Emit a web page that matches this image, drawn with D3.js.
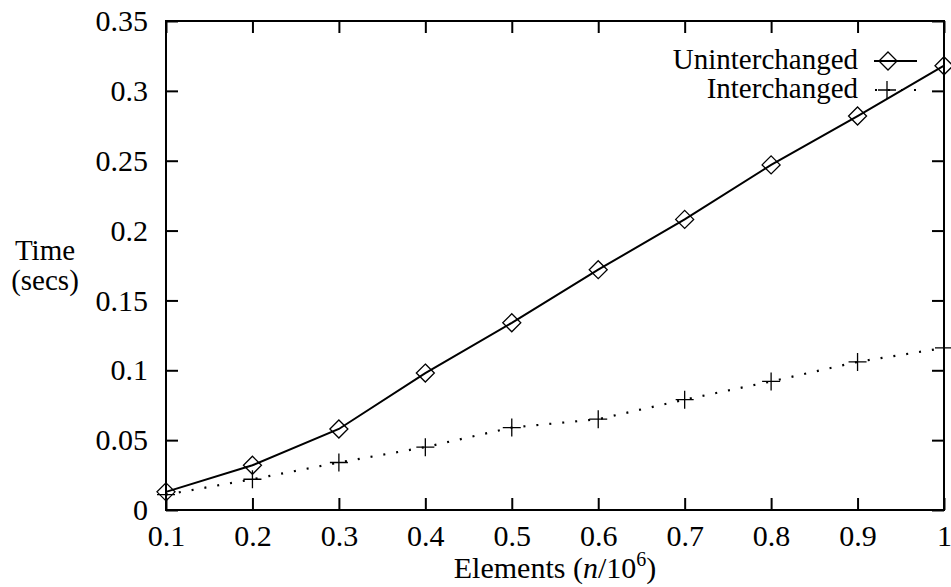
<!DOCTYPE html>
<html>
<head>
<meta charset="utf-8">
<script src="https://cdn.jsdelivr.net/npm/d3@7"></script>
<style>
  body { margin: 0; background: #fff; }
  svg { display: block; font-family: "Liberation Serif", "Times New Roman", serif; }
</style>
</head>
<body>
<div id="chart"></div>
<script>
// values
var elements = [0.1, 0.2, 0.3, 0.4, 0.5, 0.6, 0.7, 0.8, 0.9, 1.0];
var uninterchanged = [0.013, 0.032, 0.058, 0.098, 0.134, 0.172, 0.208, 0.247, 0.282, 0.318];
var interchanged = [0.011, 0.022, 0.034, 0.045, 0.059, 0.065, 0.079, 0.092, 0.106, 0.116];

var xTicks = [0.1, 0.2, 0.3, 0.4, 0.5, 0.6, 0.7, 0.8, 0.9, 1];
var xTickLabels = ["0.1", "0.2", "0.3", "0.4", "0.5", "0.6", "0.7", "0.8", "0.9", "1"];
var yTicks = [0, 0.05, 0.1, 0.15, 0.2, 0.25, 0.3, 0.35];
var yTickLabels = ["0", "0.05", "0.1", "0.15", "0.2", "0.25", "0.3", "0.35"];

var seriesNames = ["Uninterchanged", "Interchanged"];

var width = 951,
	height = 587;

// plot box edges (top is a reserved global name, so prefixed)
var plotLeft = 166, plotRight = 944, plotTop = 21, plotBottom = 510;

var svg = d3.select("#chart")
	.append("svg")
	.attr("width", width)
	.attr("height", height);

var x = d3.scaleLinear().domain([0.1, 1]).range([plotLeft, plotRight]);
var y = d3.scaleLinear().domain([0, 0.35]).range([plotBottom, plotTop]);

// axes, ticks pointing inward on all four sides
var xAxis = d3.axisBottom(x)
	.tickValues(xTicks)
	.tickFormat(function(d, i){ return xTickLabels[i]; })
	.tickSizeInner(-12)
	.tickSizeOuter(0)
	.tickPadding(15);

var yAxis = d3.axisLeft(y)
	.tickValues(yTicks)
	.tickFormat(function(d, i){ return yTickLabels[i]; })
	.tickSizeInner(-12)
	.tickSizeOuter(0)
	.tickPadding(18);

var gx = svg.append("g").attr("transform", "translate(0," + plotBottom + ")").call(xAxis);
var gy = svg.append("g").attr("transform", "translate(" + plotLeft + ",0)").call(yAxis);
var gxTop = svg.append("g").attr("transform", "translate(0," + plotTop + ")")
	.call(d3.axisTop(x).tickValues(xTicks).tickFormat("").tickSizeInner(-12).tickSizeOuter(0));
var gyRight = svg.append("g").attr("transform", "translate(" + plotRight + ",0)")
	.call(d3.axisRight(y).tickValues(yTicks).tickFormat("").tickSizeInner(-12).tickSizeOuter(0));

[gx, gy, gxTop, gyRight].forEach(function(g){
	g.select(".domain").remove();
	g.selectAll(".tick line").attr("stroke", "#000").attr("stroke-width", 2);
	g.selectAll(".tick text")
		.attr("fill", "#000")
		.style("font-size", "30px")
		.style("font-family", "'Liberation Serif', serif");
});

// frame
svg.append("rect")
	.attr("x", plotLeft)
	.attr("y", plotTop)
	.attr("width", plotRight - plotLeft)
	.attr("height", plotBottom - plotTop)
	.attr("fill", "none")
	.attr("stroke", "#000")
	.attr("stroke-width", 2);

// axis titles
var ylab = svg.append("text")
	.attr("text-anchor", "middle")
	.style("font-size", "29px")
	.attr("fill", "#000");
ylab.append("tspan").attr("x", 45).attr("y", 260).text("Time");
ylab.append("tspan").attr("x", 45).attr("y", 290).text("(secs)");

var xlab = svg.append("text")
	.attr("x", (plotLeft + plotRight) / 2)
	.attr("y", 578)
	.attr("text-anchor", "middle")
	.style("font-size", "30px")
	.attr("fill", "#000");
xlab.append("tspan").text("Elements (");
xlab.append("tspan").style("font-style", "italic").text("n");
xlab.append("tspan").text("/10");
xlab.append("tspan").attr("dy", -12).style("font-size", "20px").text("6");
xlab.append("tspan").attr("dy", 12).text(")");

// lines
var line = d3.line()
	.x(function(d){ return x(d[0]); })
	.y(function(d){ return y(d[1]); });

var unData = elements.map(function(e, i){ return [e, uninterchanged[i]]; });
var inData = elements.map(function(e, i){ return [e, interchanged[i]]; });

svg.append("path")
	.datum(unData)
	.attr("d", line)
	.attr("fill", "none")
	.attr("stroke", "#000")
	.attr("stroke-width", 2);

svg.append("path")
	.datum(inData)
	.attr("d", line)
	.attr("fill", "none")
	.attr("stroke", "#000")
	.attr("stroke-width", 2.2)
	.attr("stroke-dasharray", "2 11");

// point symbols
function diamond(g, cx, cy){
	g.append("path")
		.attr("d", "M" + cx + "," + (cy - 9) + "L" + (cx + 9) + "," + cy + "L" + cx + "," + (cy + 9) + "L" + (cx - 9) + "," + cy + "Z")
		.attr("fill", "none")
		.attr("stroke", "#000")
		.attr("stroke-width", 1.3);
}

function plus(g, cx, cy){
	g.append("path")
		.attr("d", "M" + (cx - 9) + "," + cy + "H" + (cx + 9) + "M" + cx + "," + (cy - 9) + "V" + (cy + 9))
		.attr("fill", "none")
		.attr("stroke", "#000")
		.attr("stroke-width", 1.3);
}

var pts = svg.append("g");
unData.forEach(function(d){ diamond(pts, x(d[0]), y(d[1])); });
inData.forEach(function(d){ plus(pts, x(d[0]), y(d[1])); });

// legend
var legend = svg.append("g");
var rows = [61, 90];

legend.selectAll("text")
	.data(seriesNames)
	.enter()
	.append("text")
	.attr("x", 858)
	.attr("y", function(d, i){ return rows[i] + 8; })
	.attr("text-anchor", "end")
	.style("font-size", "29px")
	.attr("fill", "#000")
	.text(function(d){ return d; });

legend.append("line")
	.attr("x1", 874).attr("x2", 917)
	.attr("y1", rows[0]).attr("y2", rows[0])
	.attr("stroke", "#000")
	.attr("stroke-width", 2);
diamond(legend, 888, rows[0]);

legend.append("line")
	.attr("x1", 875).attr("x2", 917)
	.attr("y1", rows[1]).attr("y2", rows[1])
	.attr("stroke", "#000")
	.attr("stroke-width", 2.2)
	.attr("stroke-dasharray", "2 11");
plus(legend, 887, rows[1]);
</script>
</body>
</html>
